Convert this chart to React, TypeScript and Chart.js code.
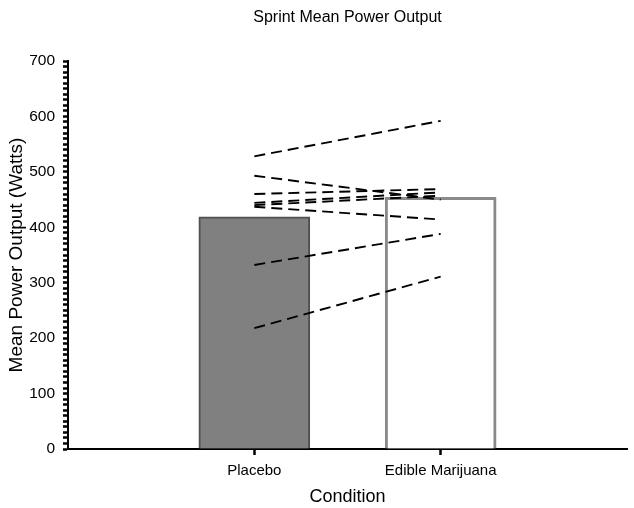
import { useEffect, useRef } from "react"
import { Chart, registerables } from "chart.js"

Chart.register(...registerables)

// x positions: blank slots at both ends so the two conditions sit at 1/3 and 2/3
const conditions = ["", "Placebo", "Edible Marijuana", ""]
const barMeans = [null, 419, 454, null]

// individual subjects (placebo -> edible)
const placeboValues = [528, 493, 460, 444, 440, 437, 332, 218]
const edibleValues = [592, 450, 469, 463, 457, 414, 388, 311]

const yTickLabels = [0, 100, 200, 300, 400, 500, 600, 700]

const FONT = "'Liberation Sans', Arial, sans-serif"

const titlePlugin = {
  id: "plotTitle",
  afterDraw(chart: Chart) {
    const { ctx, chartArea } = chart
    ctx.save()
    ctx.font = `16px ${FONT}`
    ctx.fillStyle = "#000"
    ctx.textAlign = "center"
    ctx.textBaseline = "middle"
    ctx.fillText("Sprint Mean Power Output", (chartArea.left + chartArea.right) / 2, 18)
    ctx.restore()
  },
}

export default function App() {
  const chartRef = useRef<HTMLCanvasElement>(null)
  const chartInstance = useRef<Chart | null>(null)

  useEffect(() => {
    if (!chartRef.current) return
    if (chartInstance.current) chartInstance.current.destroy()

    const ctx = chartRef.current.getContext("2d")
    if (!ctx) return

    const subjectLines = placeboValues.map((p, i) => ({
      type: "line" as const,
      label: `Subject ${i + 1}`,
      data: [null, p, edibleValues[i], null],
      borderColor: "#000",
      borderWidth: 1.9,
      borderDash: [11, 6],
      pointRadius: 0,
      fill: false,
      order: 0,
    }))

    chartInstance.current = new Chart(ctx, {
      type: "bar",
      data: {
        labels: conditions,
        datasets: [
          {
            type: "bar",
            label: "Mean",
            data: barMeans,
            backgroundColor: ["transparent", "#808080", "#ffffff", "transparent"],
            borderColor: ["transparent", "#505050", "#8a8a8a", "transparent"],
            borderWidth: [0, 2, 3, 0],
            barThickness: 111,
            order: 1,
          },
          ...subjectLines,
        ] as any,
      },
      options: {
        animation: false,
        responsive: true,
        maintainAspectRatio: false,
        layout: { padding: { top: 61, right: 6, left: 0, bottom: 0 } },
        scales: {
          x: {
            offset: false,
            afterFit: (scale: any) => {
              scale.height = 59
            },
            border: { display: true, color: "#000", width: 2 },
            grid: {
              offset: false,
              drawOnChartArea: false,
              drawTicks: true,
              tickLength: 6,
              tickWidth: 2.5,
              tickColor: (c: any) => (c.index === 1 || c.index === 2 ? "#000" : "rgba(0,0,0,0)"),
            },
            ticks: {
              color: "#000",
              font: { family: FONT, size: 15 },
              padding: 7,
              maxRotation: 0,
              autoSkip: false,
            },
            title: {
              display: true,
              text: "Condition",
              color: "#000",
              font: { family: FONT, size: 18 },
              padding: { top: 0, bottom: 0 },
            },
          },
          y: {
            min: 0,
            max: 700,
            afterFit: (scale: any) => {
              scale.width = 68
            },
            border: { display: true, color: "#000", width: 2 },
            grid: {
              drawOnChartArea: false,
              drawTicks: true,
              tickLength: 5,
              tickWidth: 2.5,
              tickColor: "#000",
            },
            ticks: {
              stepSize: 10,
              maxTicksLimit: 100,
              autoSkip: false,
              color: "#000",
              font: { family: FONT, size: 15.5 },
              padding: 8,
              callback: (value: any) => (yTickLabels.includes(Number(value)) ? String(value) : ""),
            },
            title: {
              display: true,
              text: "Mean Power Output (Watts)",
              color: "#000",
              font: { family: FONT, size: 19 },
              padding: { top: 5, bottom: 0 },
            },
          },
        },
        plugins: {
          legend: { display: false },
          tooltip: { enabled: false },
          title: { display: false },
        },
      },
      plugins: [titlePlugin],
    })

    return () => {
      if (chartInstance.current) {
        chartInstance.current.destroy()
        chartInstance.current = null
      }
    }
  }, [])

  return (
    <div style={{ position: "fixed", left: 0, top: 0, width: 634, height: 508, background: "#fff" }}>
      <canvas ref={chartRef} />
    </div>
  )
}
